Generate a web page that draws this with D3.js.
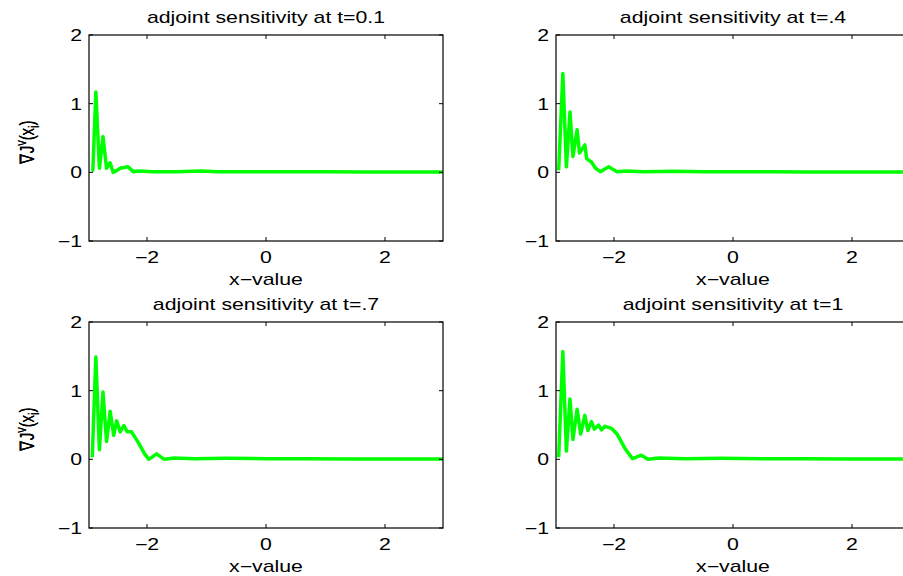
<!DOCTYPE html>
<html>
<head>
<meta charset="utf-8">
<script src="https://cdn.jsdelivr.net/npm/d3@7.9.0/dist/d3.min.js"></script>
<style>
  body { margin: 0; background: #fff; }
  text { font-family: "Liberation Sans", Arial, sans-serif; fill: #000; }
</style>
</head>
<body>
<svg id="vis"></svg>
<script>
const width = 903;
const height = 576;

// panel titles
const titles = [
    "adjoint sensitivity at t=0.1",
    "adjoint sensitivity at t=.4",
    "adjoint sensitivity at t=.7",
    "adjoint sensitivity at t=1"
];

// x positions and sensitivity values
const x01 = [-2.93, -2.91, -2.86, -2.80, -2.74, -2.68, -2.62, -2.57, -2.52, -2.45, -2.32, -2.23, -2.15, -1.9, -1.5, -1.1, -0.8, -0.3, 0.3, 1.0, 1.7, 2.4, 2.97];
const y01 = [0.02, 0.03, 1.17, 0.06, 0.52, 0.06, 0.14, 0.0, 0.02, 0.06, 0.08, 0.01, 0.02, 0.01, 0.01, 0.02, 0.01, 0.01, 0.01, 0.01, 0.005, 0.005, 0.005];

const x04 = [-2.93, -2.86, -2.80, -2.74, -2.69, -2.62, -2.58, -2.49, -2.46, -2.38, -2.31, -2.23, -2.09, -1.95, -1.8, -1.5, -1.0, -0.5, 0, 0.6, 1.3, 2.0, 2.97];
const y04 = [0.03, 1.44, 0.08, 0.88, 0.23, 0.62, 0.28, 0.40, 0.20, 0.15, 0.06, 0.01, 0.08, 0.01, 0.02, 0.01, 0.015, 0.01, 0.01, 0.01, 0.005, 0.005, 0.005];

const x07 = [-2.92, -2.86, -2.80, -2.74, -2.68, -2.62, -2.56, -2.51, -2.45, -2.39, -2.33, -2.26, -2.15, -2.04, -1.97, -1.84, -1.71, -1.54, -1.2, -0.7, 0, 0.7, 1.5, 2.2, 2.97];
const y07 = [0.03, 1.49, 0.14, 0.98, 0.26, 0.70, 0.35, 0.56, 0.40, 0.49, 0.40, 0.40, 0.25, 0.08, 0.0, 0.08, 0.0, 0.02, 0.01, 0.015, 0.01, 0.01, 0.005, 0.005, 0.005];

const x10 = [-2.93, -2.86, -2.80, -2.74, -2.69, -2.62, -2.56, -2.49, -2.44, -2.38, -2.33, -2.26, -2.21, -2.15, -2.04, -1.95, -1.81, -1.69, -1.54, -1.43, -1.24, -0.8, -0.2, 0.5, 1.2, 2.0, 2.97];
const y10 = [0.03, 1.57, 0.12, 0.88, 0.29, 0.73, 0.37, 0.64, 0.42, 0.55, 0.44, 0.50, 0.43, 0.48, 0.45, 0.37, 0.15, 0.01, 0.06, 0.0, 0.02, 0.01, 0.015, 0.01, 0.01, 0.005, 0.005];

const xTicks = [-2, 0, 2];
const yTicks = [-1, 0, 1, 2];
const xDomain = [-2.975, 2.975];
const yDomain = [-1, 2];

const series = [
    { x: x01, y: y01 },
    { x: x04, y: y04 },
    { x: x07, y: y07 },
    { x: x10, y: y10 }
];

// panel boxes (left, top); all same size
const pw = 354, ph = 206;
const origins = [[89, 35], [556, 35], [89, 322], [556, 322]];

const stretch = 1.33;   // text in the picture is wider than it is tall
const fs = 16;

const vis = d3.select("#vis")
    .attr("width", width)
    .attr("height", height);

function addText(g, x, y, str, anchor) {
    return g.append("text")
        .attr("transform", `translate(${x},${y}) scale(${stretch},1)`)
        .attr("text-anchor", anchor)
        .style("font-size", fs + "px")
        .text(str);
}

series.forEach((s, i) => {
    const [ox, oy] = origins[i];
    const g = vis.append("g").attr("transform", `translate(${ox},${oy})`);

    const x = d3.scaleLinear().domain(xDomain).range([0, pw]);
    const y = d3.scaleLinear().domain(yDomain).range([ph, 0]);

    // clip so the line stays inside the box
    g.append("clipPath").attr("id", "clip" + i)
        .append("rect").attr("width", pw).attr("height", ph);

    const pts = s.x.map((v, k) => [v, s.y[k]]);
    g.append("path")
        .datum(pts)
        .attr("clip-path", `url(#clip${i})`)
        .attr("fill", "none")
        .attr("stroke", "#00ff00")
        .attr("stroke-width", 3.5)
        .attr("stroke-linejoin", "round")
        .attr("d", d3.line().x(d => x(d[0])).y(d => y(d[1])));

    // box
    g.append("rect")
        .attr("width", pw).attr("height", ph)
        .attr("fill", "none").attr("stroke", "#000").attr("stroke-width", 1.2);

    // inward ticks on all four sides
    const tl = 4;
    xTicks.forEach(t => {
        g.append("line").attr("x1", x(t)).attr("x2", x(t)).attr("y1", ph).attr("y2", ph - tl).attr("stroke", "#000");
        g.append("line").attr("x1", x(t)).attr("x2", x(t)).attr("y1", 0).attr("y2", tl).attr("stroke", "#000");
        addText(g, x(t), ph + 22, t < 0 ? "\u2212" + Math.abs(t) : String(t), "middle");
    });
    yTicks.forEach(t => {
        g.append("line").attr("x1", 0).attr("x2", tl).attr("y1", y(t)).attr("y2", y(t)).attr("stroke", "#000");
        g.append("line").attr("x1", pw).attr("x2", pw - tl).attr("y1", y(t)).attr("y2", y(t)).attr("stroke", "#000");
        addText(g, -7, y(t) + 6, t < 0 ? "\u2212" + Math.abs(t) : String(t), "end");
    });

    // x label
    addText(g, pw / 2, ph + 44, "x\u2212value", "middle");

    // title
    addText(g, pw / 2, -12, titles[i], "middle");

    // y label: ∇J^v(x_i)
    const yl = g.append("text")
        .attr("transform", `translate(${34 - ox},${107}) scale(${stretch},1) rotate(-90)`)
        .attr("text-anchor", "middle")
        .style("font-size", "15px");
    yl.append("tspan").text("\u2207J");
    yl.append("tspan").attr("dy", -6).style("font-size", "11px").text("v");
    yl.append("tspan").attr("dy", 6).text("(x");
    yl.append("tspan").attr("dy", 4).style("font-size", "11px").text("i");
    yl.append("tspan").attr("dy", -4).text(")");
});
</script>
</body>
</html>
